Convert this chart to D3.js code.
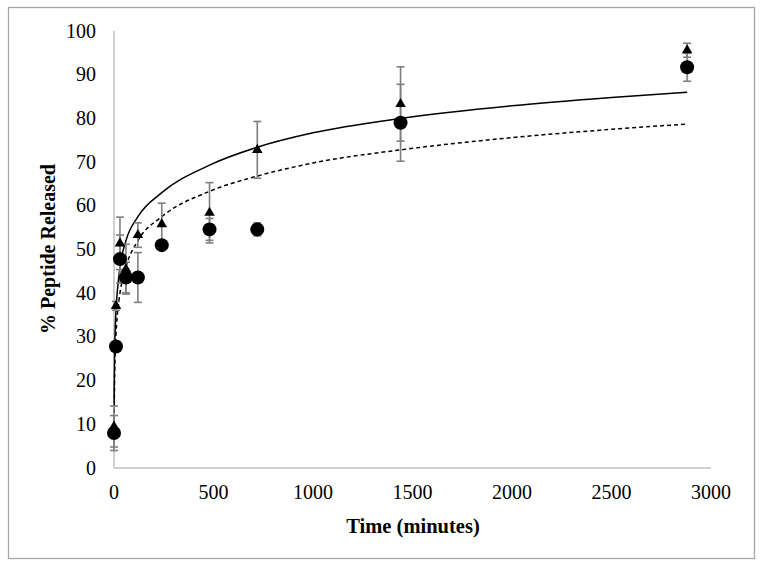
<!DOCTYPE html>
<html>
<head>
<meta charset="utf-8">
<script src="https://cdn.jsdelivr.net/npm/d3@7"></script>
<style>
  body { margin: 0; background: #fff; }
</style>
</head>
<body>
<div id="chart"></div>
<script>
// sampling times in minutes
const times = [0, 10, 30, 60, 120, 240, 480, 720, 1440, 2880]

// triangle series (mean and error)
const triMean = [9.5, 37.1, 51.4, 45.5, 53.3, 55.8, 58.4, 72.8, 83.3, 95.6]
const triErr = [4.7, 1.0, 6.0, 5.7, 2.8, 4.8, 6.9, 6.5, 8.5, 1.6]

// circle series (mean and error)
const circMean = [8.0, 27.8, 47.8, 43.6, 43.6, 51.0, 54.6, 54.6, 79.0, 91.7]
const circErr = [4.0, 1.0, 5.5, 3.5, 5.7, 1.0, 2.5, 1.5, 8.8, 3.2]

// trend curves
const solidT = [1, 2, 5, 10, 20, 30, 60, 120, 240, 480, 720, 1000, 1440, 2000, 2500, 2880]
const solidV = [15, 22, 30, 36, 42, 46, 52, 57.5, 63, 69.3, 73.4, 76.7, 80, 82.9, 84.8, 86]
const dashT = [1, 2, 5, 10, 20, 30, 60, 120, 240, 480, 720, 1000, 1440, 2000, 2500, 2880]
const dashV = [11, 17, 25, 30.5, 36.5, 40, 46, 52, 57.5, 63.3, 66.8, 69.8, 72.8, 75.6, 77.5, 78.7]

const xTicks = [0, 500, 1000, 1500, 2000, 2500, 3000]
const yTicks = [0, 10, 20, 30, 40, 50, 60, 70, 80, 90, 100]

const W = 768, H = 574
const serif = 'Liberation Serif, DejaVu Serif, serif'

const svg = d3.select('#chart').append('svg')
    .attr('width', W)
    .attr('height', H)
    .style('font-family', serif)

// outer frame
svg.append('rect')
    .attr('x', 8.5).attr('y', 7.5)
    .attr('width', 746).attr('height', 551)
    .attr('fill', 'none')
    .attr('stroke', '#a6a6a6')
    .attr('stroke-width', 1.3)

const x = d3.scaleLinear().domain([0, 3000]).range([114, 711])
const y = d3.scaleLinear().domain([0, 100]).range([468, 31])

// axis lines
svg.append('line')
    .attr('x1', x(0)).attr('x2', x(0))
    .attr('y1', y(0)).attr('y2', y(100))
    .attr('stroke', '#bfbfbf').attr('stroke-width', 1.5)
svg.append('line')
    .attr('x1', x(0)).attr('x2', x(3000))
    .attr('y1', y(0)).attr('y2', y(0))
    .attr('stroke', '#bfbfbf').attr('stroke-width', 1.5)

svg.selectAll('yLabels').data(yTicks)
  .enter()
    .append('text')
      .attr('font-size', 20)
      .attr('x', 96)
      .attr('y', d => y(d) + 6.5)
      .attr('text-anchor', 'end')
      .text(d => d)

svg.selectAll('xLabels').data(xTicks)
  .enter()
    .append('text')
      .attr('font-size', 20)
      .attr('x', d => x(d))
      .attr('y', 499)
      .attr('text-anchor', 'middle')
      .text(d => d)

svg.append('text')
    .attr('font-size', 20.5)
    .attr('font-weight', 'bold')
    .attr('x', 413)
    .attr('y', 533)
    .attr('text-anchor', 'middle')
    .text('Time (minutes)')

svg.append('text')
    .attr('font-size', 20)
    .attr('font-weight', 'bold')
    .attr('transform', 'translate(55, 249) rotate(-90)')
    .attr('text-anchor', 'middle')
    .text('% Peptide Released')

// trend curves
const line = d3.line()
    .x(d => x(d[0]))
    .y(d => y(d[1]))
    .curve(d3.curveMonotoneX)

svg.append('path')
    .attr('d', line(d3.zip(solidT, solidV)))
    .attr('fill', 'none')
    .attr('stroke', '#000')
    .attr('stroke-width', 1.5)

svg.append('path')
    .attr('d', line(d3.zip(dashT, dashV)))
    .attr('fill', 'none')
    .attr('stroke', '#000')
    .attr('stroke-width', 1.5)
    .attr('stroke-dasharray', '4,3')

// error bars
const capW = 4
const drawErrors = (mean, err) => {
    const data = times.map((t, i) => ({t, lo: mean[i] - err[i], hi: mean[i] + err[i]}))
    const g = svg.append('g')
        .attr('stroke', '#7f7f7f')
        .attr('stroke-width', 1.6)
    g.selectAll('line.v').data(data).enter().append('line')
        .attr('x1', d => x(d.t)).attr('x2', d => x(d.t))
        .attr('y1', d => y(d.lo)).attr('y2', d => y(d.hi))
    g.selectAll('line.hi').data(data).enter().append('line')
        .attr('x1', d => x(d.t) - capW).attr('x2', d => x(d.t) + capW)
        .attr('y1', d => y(d.hi)).attr('y2', d => y(d.hi))
    g.selectAll('line.lo').data(data).enter().append('line')
        .attr('x1', d => x(d.t) - capW).attr('x2', d => x(d.t) + capW)
        .attr('y1', d => y(d.lo)).attr('y2', d => y(d.lo))
}
drawErrors(triMean, triErr)
drawErrors(circMean, circErr)

// markers
svg.selectAll('triangles').data(times)
  .enter()
    .append('path')
      .attr('d', d3.symbol().type(d3.symbolTriangle).size(48))
      .attr('transform', (t, i) => `translate(${x(t)}, ${y(triMean[i])})`)
      .attr('fill', '#000')

svg.selectAll('circles').data(times)
  .enter()
    .append('circle')
      .attr('cx', t => x(t))
      .attr('cy', (t, i) => y(circMean[i]))
      .attr('r', 7)
      .attr('fill', '#000')
</script>
</body>
</html>
